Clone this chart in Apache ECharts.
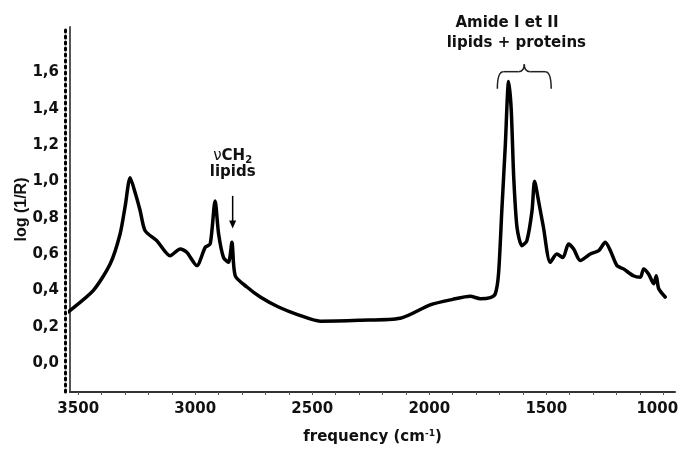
<!DOCTYPE html>
<html><head><meta charset="utf-8">
<script src="https://cdn.jsdelivr.net/npm/echarts@6/dist/echarts.min.js"></script>
<style>html,body{margin:0;padding:0;background:#fff}#c{width:680px;height:450px}</style>
</head><body><div id="c"></div>
<script>
const frequency = [3556,3534,3435,3363,3321,3299,3278,3255,3235,3214,3164,3107,3064,3036,2993,2957,2936,2915,2900,2879,2858,2843,2829,2779,2722,2644,2560,2466,2300,2124,1996,1900,1825,1782,1739,1718,1704,1690,1675,1661,1650,1639,1625,1604,1583,1561,1550,1533,1512,1483,1455,1429,1405,1383,1355,1312,1276,1248,1226,1198,1170,1128,1098,1084,1063,1041,1030,1020,992];
const logInvR = [0.27,0.29,0.40,0.546,0.71,0.865,1.02,0.93,0.837,0.728,0.673,0.59,0.628,0.609,0.536,0.637,0.655,0.892,0.71,0.58,0.554,0.664,0.48,0.418,0.363,0.308,0.265,0.23,0.235,0.246,0.32,0.35,0.367,0.354,0.36,0.38,0.49,0.837,1.20,1.55,1.40,1.02,0.746,0.646,0.673,0.837,1.00,0.892,0.746,0.554,0.60,0.58,0.655,0.628,0.564,0.60,0.618,0.664,0.618,0.536,0.518,0.48,0.472,0.518,0.49,0.436,0.48,0.41,0.363];
const xTickLabels = [3500,3000,2500,2000,1500,1000];
const xMinorTicks = [];
for (let v = 1000; v <= 3500; v += 100) xMinorTicks.push(v);
const yTickLabels = [0,0.2,0.4,0.6,0.8,1.0,1.2,1.4,1.6];

const chart = echarts.init(document.getElementById('c'), null, {width: 680, height: 450});
const FONT = 'DejaVu Sans';
chart.setOption({
  animation: false,
  grid: {left: 70, right: 5, top: 27, bottom: 58, containLabel: false, outerBoundsMode: 'none'},
  xAxis: {
    type: 'value', inverse: true, min: 950, max: 3535,
    name: 'frequency (cm{sup|-1})', nameLocation: 'middle', nameGap: 37, nameMoveOverlap: false,
    nameTextStyle: {fontFamily: FONT, fontWeight: 'bold', fontSize: 15, color: '#111',
      rich: {sup: {fontFamily: FONT, fontWeight: 'bold', fontSize: 9, verticalAlign: 'top', padding: [0,0,8,0]}}},
    axisLine: {onZero: false, lineStyle: {color: '#333', width: 2}},
    axisTick: {show: true, length: 3, customValues: xMinorTicks, lineStyle: {color: '#555', width: 1}},
    axisLabel: {customValues: xTickLabels,
      formatter: v => v === 1000 ? '{e|1000}' : String(v),
      rich: {e: {fontFamily: FONT, fontWeight: 'bold', fontSize: 15, color: '#111', padding: [0, 12, 0, 0]}},
      fontFamily: FONT, fontWeight: 'bold', fontSize: 15, color: '#111', margin: 10},
    splitLine: {show: false}
  },
  yAxis: [{
    type: 'value', min: -0.16, max: 1.85,
    name: 'log (1/R)', nameLocation: 'middle', nameGap: 40, nameMoveOverlap: false,
    nameTextStyle: {fontFamily: 'Liberation Sans', fontWeight: 'bold', fontSize: 16, color: '#111'},
    axisLine: {show: true, onZero: false, lineStyle: {color: '#555', width: 2}},
    axisTick: {show: false},
    axisLabel: {customValues: yTickLabels, formatter: v => v.toFixed(1).replace('.', ','),
      fontFamily: FONT, fontWeight: 'bold', fontSize: 15, color: '#111', margin: 11},
    splitLine: {show: false}
  },{
    type: 'value', min: -0.16, max: 1.85, position: 'left', offset: 5,
    axisLine: {show: true, onZero: false, lineStyle: {color: '#000', width: 3, type: [2, 4]}},
    axisTick: {show: false}, axisLabel: {show: false}, splitLine: {show: false}
  }],
  series: [{
    type: 'line', data: frequency.map((f, i) => [f, logInvR[i]]),
    showSymbol: false, smooth: 0.25, clip: false,
    lineStyle: {color: '#000', width: 3.5, join: 'round', cap: 'round'}
  }]
});

function px(x, y) { return chart.convertToPixel({xAxisIndex: 0, yAxisIndex: 0}, [x, y]); }
const a0 = px(2840, 0.92), a1 = px(2840, 0.74);
const bl = px(1709, 1.51), br = px(1479, 1.51), bt = px(1594, 1.604), tip = px(1594, 1.645);
const r = 6;
const braceStyle = {stroke: '#222', lineWidth: 1.5, fill: null};
const t1 = px(2840, 1.14), t2 = px(2840, 1.05);
const t3 = px(1668, 1.87), t4 = px(1628, 1.763);
chart.setOption({graphic: [
  {type: 'line', shape: {x1: a0[0], y1: a0[1], x2: a1[0], y2: a1[1] - 5}, style: {stroke: '#000', lineWidth: 1.5}},
  {type: 'polygon', shape: {points: [[a1[0]-3.5, a1[1]-8], [a1[0]+3.5, a1[1]-8], [a1[0], a1[1]]]}, style: {fill: '#000'}},
  {type: 'bezierCurve', shape: {x1: bl[0], y1: bl[1], cpx1: bl[0], cpy1: bt[1], x2: bl[0]+r, y2: bt[1]}, style: braceStyle},
  {type: 'line', shape: {x1: bl[0]+r, y1: bt[1], x2: tip[0]-r, y2: bt[1]}, style: braceStyle},
  {type: 'bezierCurve', shape: {x1: tip[0]-r, y1: bt[1], cpx1: tip[0], cpy1: bt[1], x2: tip[0], y2: tip[1]}, style: braceStyle},
  {type: 'bezierCurve', shape: {x1: tip[0], y1: tip[1], cpx1: tip[0], cpy1: bt[1], x2: tip[0]+r, y2: bt[1]}, style: braceStyle},
  {type: 'line', shape: {x1: tip[0]+r, y1: bt[1], x2: br[0]-r, y2: bt[1]}, style: braceStyle},
  {type: 'bezierCurve', shape: {x1: br[0]-r, y1: bt[1], cpx1: br[0], cpy1: bt[1], x2: br[0], y2: br[1]}, style: braceStyle},
  {type: 'text', x: t1[0], y: t1[1], style: {text: '{nu|ν}{b|CH}{sub|2}', align: 'center', verticalAlign: 'middle',
    rich: {nu: {fontFamily: FONT, fontSize: 15, fill: '#111'}, b: {fontFamily: FONT, fontWeight: 'bold', fontSize: 15, fill: '#111'},
      sub: {fontFamily: FONT, fontWeight: 'bold', fontSize: 10, fill: '#111', padding: [8,0,0,0]}}}},
  {type: 'text', x: t2[0], y: t2[1], style: {text: 'lipids', align: 'center', verticalAlign: 'middle', fontFamily: FONT, fontWeight: 'bold', fontSize: 15, fill: '#111'}},
  {type: 'text', x: t3[0], y: t3[1], style: {text: 'Amide I et II', align: 'center', verticalAlign: 'middle', fontFamily: FONT, fontWeight: 'bold', fontSize: 15, fill: '#111'}},
  {type: 'text', x: t4[0], y: t4[1], style: {text: 'lipids + proteins', align: 'center', verticalAlign: 'middle', fontFamily: FONT, fontWeight: 'bold', fontSize: 15, fill: '#111'}}
]});
</script></body></html>
